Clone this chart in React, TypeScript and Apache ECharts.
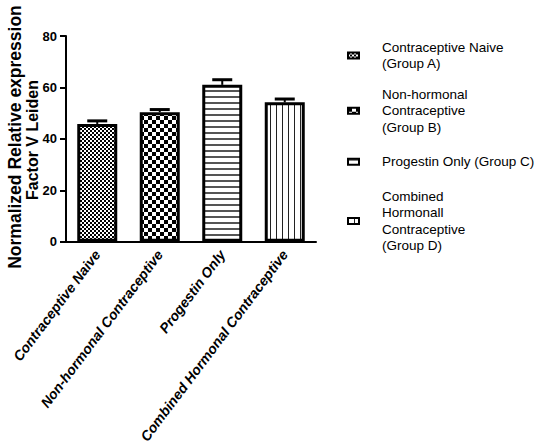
import React, { useEffect, useRef } from "react";
import * as echarts from "echarts";

const categories = [
  "Contraceptive Naive",
  "Non-hormonal Contraceptive",
  "Progestin Only",
  "Combined Hormonal Contraceptive",
];
const seriesNames = [
  "Contraceptive Naive\n(Group A)",
  "Non-hormonal\nContraceptive\n(Group B)",
  "Progestin Only (Group C)",
  "Combined\nHormonall\nContraceptive\n(Group D)",
];
const means = [45.8, 50.4, 61.0, 54.2];
const upperErrors = [47.0, 51.4, 63.0, 55.5];
const yTicks = [0, 20, 40, 60, 80];
const yLabelLine1 = "Normalized Relative expression";
const yLabelLine2 = "Factor V Leiden";

const FONT = "'Liberation Sans', Arial, sans-serif";

function makeTile(w: number, h: number, draw: (c: CanvasRenderingContext2D) => void) {
  const cv = document.createElement("canvas");
  cv.width = w;
  cv.height = h;
  const ctx = cv.getContext("2d")!;
  ctx.fillStyle = "#fff";
  ctx.fillRect(0, 0, w, h);
  draw(ctx);
  return { image: cv.toDataURL(), imageWidth: w, imageHeight: h, repeat: "repeat" };
}

export default function App() {
  const ref = useRef<HTMLDivElement>(null);
  useEffect(() => {
    if (!ref.current) return;
    const chart = echarts.init(ref.current, null, { renderer: "svg" });

    const patterns = [
      makeTile(4, 4, (c) => {
        c.fillStyle = "#000";
        c.fillRect(0, 0, 2, 2);
        c.fillRect(2, 2, 2, 2);
      }),
      makeTile(8, 8, (c) => {
        c.fillStyle = "#000";
        c.fillRect(0, 0, 4, 4);
        c.fillRect(4, 4, 4, 4);
      }),
      makeTile(4, 6, (c) => {
        c.fillStyle = "#555";
        c.fillRect(0, 0, 4, 2);
      }),
      makeTile(6, 4, (c) => {
        c.fillStyle = "#222";
        c.fillRect(0, 0, 1, 4);
      }),
    ];

    const barSeries = seriesNames.map((name, i) => ({
      name,
      type: "bar",
      stack: "all",
      barWidth: 40,
      data: categories.map((_, j) => (j === i ? means[i] : "-")),
      itemStyle: {
        color: patterns[i] as any,
        borderColor: "#000",
        borderWidth: 3,
      },
      emphasis: { disabled: true },
      z: 2,
    }));

    const errorSeries = {
      type: "custom",
      name: "error",
      data: means.map((m, i) => [i, m, upperErrors[i]]),
      z: 3,
      renderItem: (params: any, api: any) => {
        const x = api.value(0);
        const low = api.coord([x, api.value(1)]);
        const high = api.coord([x, api.value(2)]);
        return {
          type: "group",
          children: [
            {
              type: "line",
              shape: { x1: low[0], y1: low[1], x2: high[0], y2: high[1] },
              style: { stroke: "#000", lineWidth: 2 },
            },
            {
              type: "line",
              shape: { x1: high[0] - 10, y1: high[1], x2: high[0] + 10, y2: high[1] },
              style: { stroke: "#000", lineWidth: 3 },
            },
          ],
        };
      },
    };

    const legendText = {
      fontFamily: FONT,
      fontSize: 13.5,
      lineHeight: 16.5,
      color: "#000",
      padding: [0, 0, 0, 18],
    };

    chart.setOption({
      animation: false,
      backgroundColor: "#fff",
      grid: { left: 66, right: 222, top: 36, bottom: 203, containLabel: false },
      legend: {
        orient: "vertical",
        left: 347,
        top: 39,
        padding: 0,
        icon: "path://M0 0H12V7H0Z",
        symbolKeepAspect: false,
        itemWidth: 11,
        itemHeight: 6,
        itemGap: 14,
        data: seriesNames.map((name, i) =>
          i === 2
            ? { name, textStyle: { ...legendText, padding: [6, 0, 2, 18] } }
            : { name }
        ),
        selectedMode: false,
        itemStyle: { borderWidth: 2, borderColor: "#000" },
        textStyle: legendText,
      },
      xAxis: {
        type: "category",
        data: categories,
        axisLine: { lineStyle: { color: "#000", width: 2 } },
        axisTick: { alignWithLabel: true, length: 6, lineStyle: { color: "#000", width: 2 } },
        axisLabel: {
          rotate: 53,
          interval: 0,
          margin: 10,
          fontFamily: FONT,
          fontWeight: "bold",
          fontStyle: "italic",
          fontSize: 14,
          color: "#000",
        },
      },
      yAxis: {
        type: "value",
        min: yTicks[0],
        max: yTicks[yTicks.length - 1],
        interval: 20,
        axisLine: { show: true, lineStyle: { color: "#000", width: 2 } },
        axisTick: { show: true, length: 6, lineStyle: { color: "#000", width: 2 } },
        splitLine: { show: false },
        axisLabel: {
          margin: 9,
          fontFamily: FONT,
          fontWeight: "bold",
          fontSize: 13,
          color: "#000",
        },
      },
      graphic: [
        {
          type: "text",
          x: 15,
          y: 137,
          rotation: Math.PI / 2,
          style: {
            text: yLabelLine1,
            font: `bold 17.5px ${FONT}`,
            fill: "#000",
            textAlign: "center",
            textVerticalAlign: "middle",
          },
        },
        {
          type: "text",
          x: 32,
          y: 140,
          rotation: Math.PI / 2,
          style: {
            text: yLabelLine2,
            font: `bold 16px ${FONT}`,
            fill: "#000",
            textAlign: "center",
            textVerticalAlign: "middle",
          },
        },
      ],
      series: [...barSeries, errorSeries],
    });

    return () => chart.dispose();
  }, []);

  return (
    <div
      ref={ref}
      style={{ position: "fixed", left: 0, top: 0, width: 538, height: 446, background: "#fff" }}
    />
  );
}
